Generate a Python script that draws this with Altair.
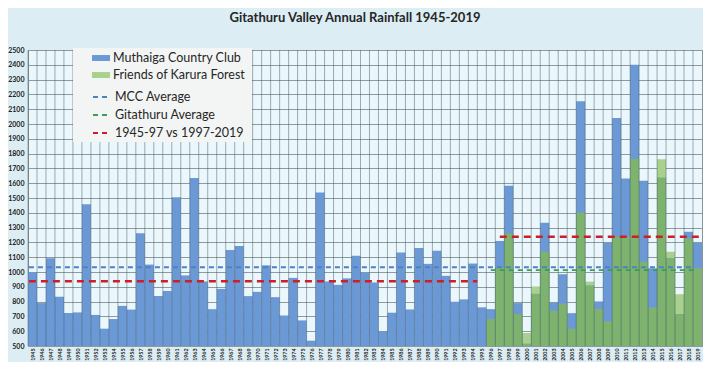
import altair as alt
import pandas as pd

# ---------------- data ----------------
years = list(range(1945, 2020))
mcc = [1000, 790, 1093, 833, 723, 727, 1458, 710, 617, 682,
       771, 746, 1262, 1050, 837, 872, 1505, 977, 1635, 936,
       749, 886, 1149, 1175, 837, 866, 1045, 830, 706, 960,
       673, 536, 1537, 936, 913, 957, 1109, 997, 929, 599,
       725, 1131, 747, 1163, 1055, 1143, 974, 799, 815, 1057,
       761, 749, 1210, 1583, 790, 515, 852, 1333, 794, 985,
       722, 2154, 908, 801, 1200, 2040, 1631, 2401, 1616, 1025,
       1636, 1093, 715, 1272, 1200]

fokf_years = list(range(1996, 2020))
fokf = [682, 1030, 1260, 715, 588, 902, 1137, 738, 785, 617,
        1402, 935, 751, 666, 1238, 1238, 1766, 1070, 760, 1762,
        1137, 850, 1227, 1025]

series_names = ["Muthaiga Country Club", "Friends of Karura Forest"]

avg_names = ["MCC Average", "Gitathuru Average",
             "1945-97 vs 1997-2019", "1945-97 vs 1997-2019"]
avg_values = [1032, 1013, 937, 1238]
avg_start = [1944.6, 1996.0, 1944.6, 1997.0]
avg_end = [2018.7, 2019.05, 1994.5, 2019.2]
line_names = ["MCC Average", "Gitathuru Average", "1945-97 vs 1997-2019"]

y_ticks = list(range(500, 2600, 100))

# ---------------- styling ----------------
BLUE = "#6B99D6"
LGREEN = "#A9D18E"
MGREEN = "#7DB36F"
DASH_BLUE = "#4F7FC6"
DASH_GREEN = "#3A9E58"
DASH_RED = "#CC1F28"
FONT = "Lato"

# ---------------- tables ----------------
long_df = pd.DataFrame({
    "year": years + fokf_years,
    "series": [series_names[0]] * len(years) + [series_names[1]] * len(fokf_years),
    "value": mcc + fokf,
})
mcc_map = dict(zip(years, mcc))
overlap_df = pd.DataFrame({
    "year": fokf_years,
    "mcc": [mcc_map[y] for y in fokf_years],
    "fokf": fokf,
})
avg_df = pd.DataFrame({"name": avg_names, "value": avg_values,
                       "start": avg_start, "end": avg_end})
grid_df = pd.DataFrame({"year": years})

x_scale = alt.Scale(domain=[1944.5, 2019.5], nice=False, zero=False)
y_scale = alt.Scale(domain=[500, 2500], nice=False, zero=False)

x_axis = alt.Axis(values=years, format="d", labelAngle=-90, labelOverlap=False,
                  labelFlush=False, labelFontSize=5.3, labelFontWeight="bold",
                  labelFont=FONT, labelColor="#222222", ticks=False, domain=False,
                  grid=False, labelPadding=2, title=None)
y_axis = alt.Axis(values=y_ticks, format="d", labelFontSize=7, labelFontWeight="bold",
                  labelFont=FONT, labelColor="#222222", ticks=False, domain=False,
                  grid=True, gridColor="#8E9A9E", gridWidth=1, labelPadding=4,
                  title=None)

fill_enc = alt.Fill(
    "series:N",
    scale=alt.Scale(domain=series_names, range=[BLUE, LGREEN]),
    legend=alt.Legend(title=None, orient="none", legendX=64, legendY=-1,
                      symbolType="M-1,-0.33H1V0.33H-1Z", symbolSize=324,
                      symbolStrokeWidth=0, labelFontSize=12.5, labelFont=FONT,
                      labelColor="#262626", rowPadding=1, padding=0,
                      labelOffset=3),
)

bars_base = alt.Chart(long_df).transform_calculate(
    x0="datum.year - 0.5", x1="datum.year + 0.5")

friends_bars = bars_base.transform_filter(
    alt.datum.series == series_names[1]).mark_bar(strokeWidth=0).encode(
    x=alt.X("x0:Q", scale=x_scale, axis=x_axis),
    x2="x1:Q",
    y=alt.Y("value:Q", scale=y_scale, axis=y_axis),
    y2=alt.datum(500),
    fill=fill_enc,
)

mcc_bars = bars_base.transform_filter(
    alt.datum.series == series_names[0]).mark_bar(strokeWidth=0).encode(
    x=alt.X("x0:Q", scale=x_scale, axis=x_axis),
    x2="x1:Q",
    y=alt.Y("value:Q", scale=y_scale, axis=y_axis),
    y2=alt.datum(500),
    fill=fill_enc,
)

overlap_bars = alt.Chart(overlap_df).transform_calculate(
    x0="datum.year - 0.5", x1="datum.year + 0.5",
    low="min(datum.mcc, datum.fokf)").mark_bar(color=MGREEN, strokeWidth=0).encode(
    x=alt.X("x0:Q", scale=x_scale, axis=x_axis),
    x2="x1:Q",
    y=alt.Y("low:Q", scale=y_scale, axis=y_axis),
    y2=alt.datum(500),
)

vgrid = alt.Chart(grid_df).transform_calculate(b="datum.year - 0.5").mark_rule(
    color="#3F4D55", opacity=0.45, strokeWidth=1).encode(
    x=alt.X("b:Q", scale=x_scale, axis=x_axis))

stroke_enc = alt.Stroke(
    "name:N",
    scale=alt.Scale(domain=line_names, range=[DASH_BLUE, DASH_GREEN, DASH_RED]),
    legend=alt.Legend(title=None, orient="none", legendX=64, legendY=37,
                      symbolType="stroke", symbolSize=324, symbolDash=[5, 4],
                      symbolStrokeWidth=2, labelFontSize=12.5, labelFont=FONT,
                      labelColor="#262626", rowPadding=1, padding=0,
                      labelOffset=3),
)

legend_box = alt.Chart(pd.DataFrame({"k": [0]})).mark_rect(
    color="#F3F5F5").encode(
    x=alt.value(45), x2=alt.value(224), y=alt.value(-2), y2=alt.value(92))

avg_lines = alt.Chart(avg_df).transform_filter(
    alt.datum.name != line_names[2]).mark_rule(
    strokeDash=[5, 4], strokeWidth=1.8).encode(
    x=alt.X("start:Q", scale=x_scale, axis=x_axis),
    x2="end:Q",
    y=alt.Y("value:Q", scale=y_scale, axis=y_axis),
    stroke=stroke_enc,
)

red_lines = alt.Chart(avg_df).transform_filter(
    alt.datum.name == line_names[2]).mark_rule(
    strokeDash=[7, 5], strokeWidth=2.4).encode(
    x=alt.X("start:Q", scale=x_scale, axis=x_axis),
    x2="end:Q",
    y=alt.Y("value:Q", scale=y_scale, axis=y_axis),
    stroke=stroke_enc,
)

chart = alt.layer(
    friends_bars, mcc_bars, overlap_bars, vgrid, legend_box, avg_lines, red_lines
).properties(
    width=674, height=296,
    autosize=alt.AutoSizeParams(type="none"),
    padding={"left": 20, "top": 42, "right": 1, "bottom": 16},
    background="#DCEEF4",
    title=alt.TitleParams("Gitathuru Valley Annual Rainfall 1945-2019",
                          fontSize=13, font=FONT, fontWeight="bold",
                          color="#262626", offset=21, anchor="middle", dx=-10),
).configure_view(
    fill="#EAF7FC", stroke="#8A9598", strokeWidth=1
)

chart.save("out.html", embed_options={"renderer": "svg", "actions": False})
